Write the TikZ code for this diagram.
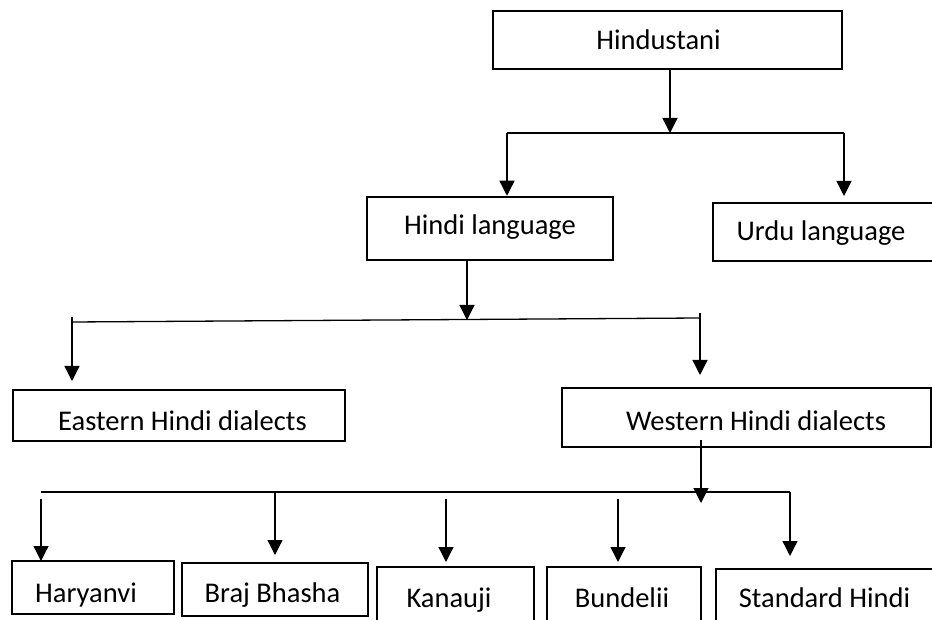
\documentclass[tikz,border=0pt]{standalone}
\usepackage{fontspec}
\setmainfont{Carlito}
\usetikzlibrary{arrows.meta}
\begin{document}
\begin{tikzpicture}[x=1pt,y=-1pt,
  box/.style={draw, line width=2.5pt, inner sep=0pt},
  lbl/.style={anchor=base, inner sep=0pt, font=\fontsize{28.5}{34}\selectfont},
  conn/.style={line width=1.3pt},
  arr/.style={line width=1.3pt, -{Triangle[width=15pt,length=15pt]}}]
\useasboundingbox (0,0) rectangle (932,620);
\clip (0,0) rectangle (932,620);
% boxes
\node[box, minimum width=349pt, minimum height=58pt] (hindustani) at (667.5,40) {};
\node[box, minimum width=246pt, minimum height=63pt] (hindi) at (490,228.5) {};
\node[box, minimum width=232pt, minimum height=58pt] (urdu) at (829,232) {};
\node[box, minimum width=332pt, minimum height=51pt] (eastern) at (179,415.5) {};
\node[box, minimum width=369pt, minimum height=59pt] (western) at (746.5,417.5) {};
\node[box, minimum width=162pt, minimum height=53pt] (haryanvi) at (93,587.5) {};
\node[box, minimum width=186pt, minimum height=53pt] (braj) at (275,589.5) {};
\node[box, minimum width=157pt, minimum height=63pt] (kanauji) at (455.5,598.5) {};
\node[box, minimum width=154pt, minimum height=63pt] (bundelii) at (624,598.5) {};
\node[box, minimum width=229pt, minimum height=61pt] (standard) at (830.5,599.5) {};
% labels
\node[lbl] (thindustani) at (658.5,50) {Hindustani};
\node[lbl] (thindi) at (490,235) {Hindi language};
\node[lbl] (turdu) at (821,241) {Urdu language};
\node[lbl] (teastern) at (182.5,430) {Eastern Hindi dialects};
\node[lbl] (twestern) at (756,430) {Western Hindi dialects};
\node[lbl] (tharyanvi) at (86,602) {Haryanvi};
\node[lbl] (tbraj) at (272.5,602) {Braj Bhasha};
\node[lbl] (tkanauji) at (449,607) {Kanauji};
\node[lbl] (tbundelii) at (622,607) {Bundelii};
\node[lbl] (tstandard) at (824.5,607) {Standard Hindi};
% junction coordinates
\coordinate (j1) at (670,133);
\coordinate (j1l) at (507,133);
\coordinate (j1r) at (844,133);
\coordinate (urdutip) at (844,196);
\coordinate (j2) at (467,320);
\coordinate (j2l) at (72,322);
\coordinate (j2r) at (700,318);
\coordinate (j2lt) at (72,317);
\coordinate (j2rt) at (700,313);
\coordinate (easttip) at (72,381);
\coordinate (westtip) at (700,375);
\coordinate (w0) at (701,440);
\coordinate (j3) at (701,503);
\coordinate (j3l) at (41,492);
\coordinate (j3r) at (790,492);
\coordinate (hs) at (41,499);
\coordinate (ht) at (41,561);
\coordinate (bs) at (275,492);
\coordinate (bt) at (275,555);
\coordinate (ks) at (446,499);
\coordinate (kt) at (446,562);
\coordinate (us) at (618,499);
\coordinate (ut) at (618,562);
\coordinate (st) at (790,556);
% level 1
\draw[arr] (hindustani.south -| j1) -- (j1);
\draw[conn] (j1l) -- (j1r);
\draw[arr] (j1l) -- (hindi.north -| j1l);
\draw[arr] (j1r) -- (urdutip);
% level 2
\draw[arr] (hindi.south -| j2) -- (j2);
\draw[conn] (j2l) -- (j2r);
\draw[arr] (j2lt) -- (easttip);
\draw[arr] (j2rt) -- (westtip);
% level 3
\draw[arr] (w0) -- (j3);
\draw[conn] (j3l) -- (j3r);
\draw[arr] (hs) -- (ht);
\draw[arr] (bs) -- (bt);
\draw[arr] (ks) -- (kt);
\draw[arr] (us) -- (ut);
\draw[arr] (j3r) -- (st);
\end{tikzpicture}
\end{document}
